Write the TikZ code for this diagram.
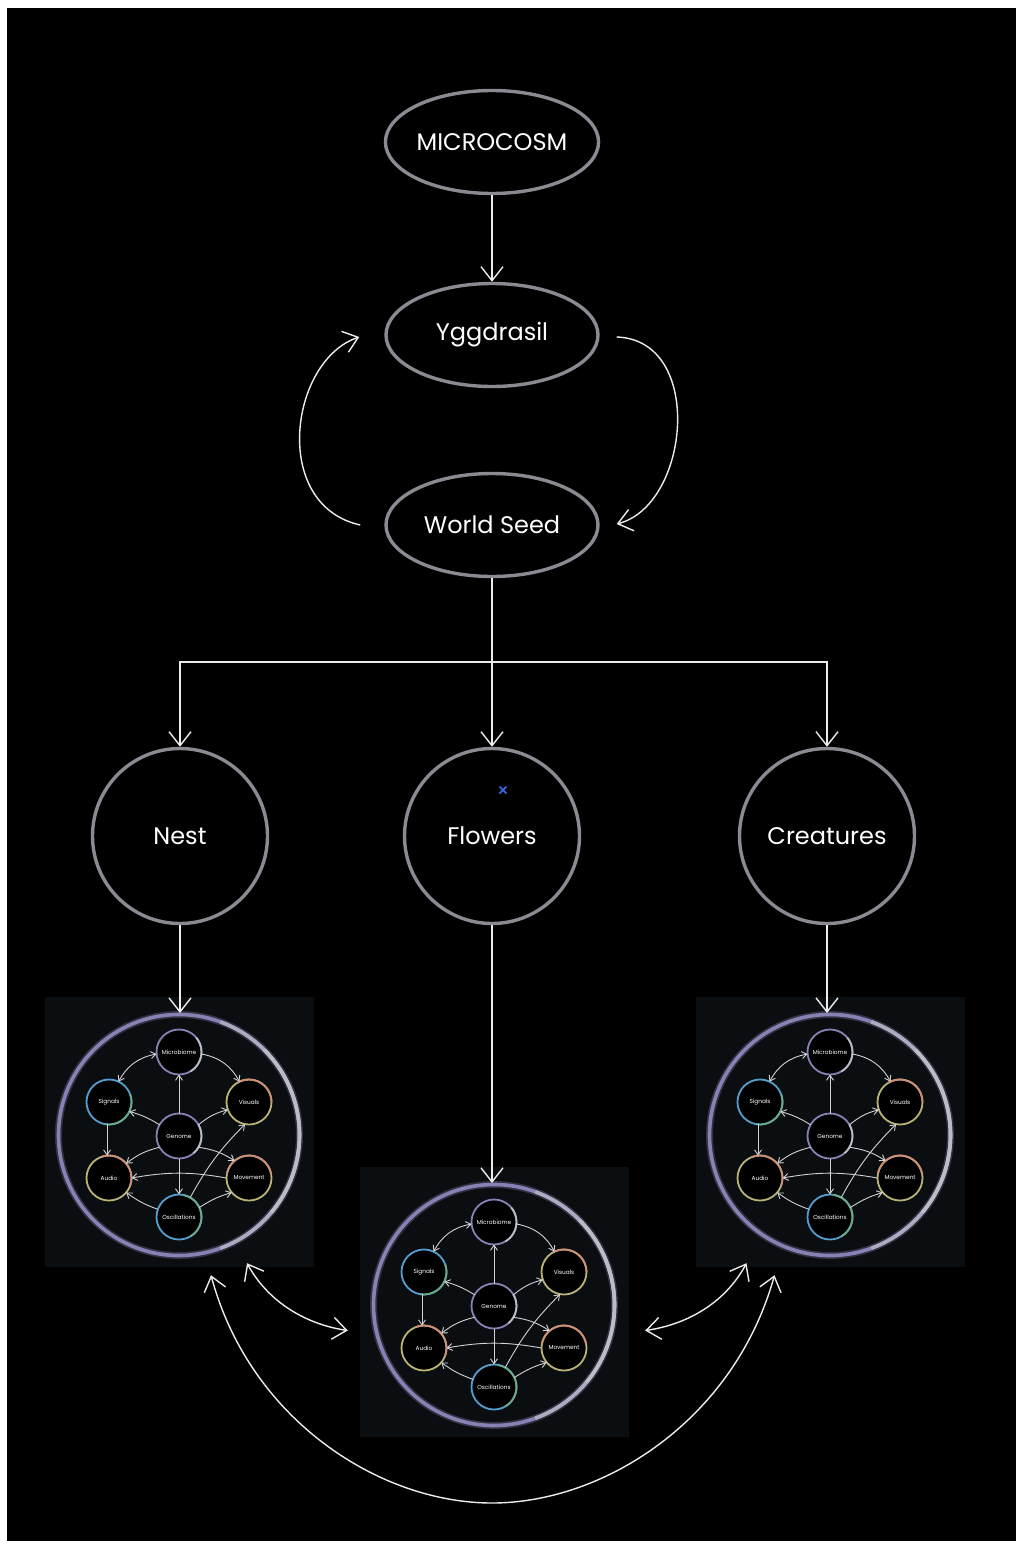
\documentclass[tikz,border=0pt]{standalone}
\usepackage{fontspec}
\setmainfont{Poppins}
\usetikzlibrary{shapes.geometric,arrows.meta,calc}
\definecolor{ringgray}{RGB}{140,137,146}
\definecolor{linew}{RGB}{236,236,236}
\definecolor{panelbg}{RGB}{10,14,16}
\definecolor{lav}{RGB}{136,130,180}
\definecolor{lgray}{RGB}{188,188,196}
\definecolor{sblue}{RGB}{86,158,206}
\definecolor{sgreen}{RGB}{108,172,136}
\definecolor{opink}{RGB}{206,142,120}
\definecolor{oyel}{RGB}{186,180,118}
\definecolor{miniarrow}{RGB}{210,210,214}
\definecolor{xblue}{RGB}{60,110,240}
\definecolor{logoorange}{RGB}{244,160,120}
\definecolor{logogray}{RGB}{140,140,140}
\tikzset{
  bigoval/.style={ellipse, draw=ringgray, line width=3.4pt, fill=black, minimum width=212pt, minimum height=103pt, text=white, font=\fontsize{24}{27}\selectfont, inner sep=0pt},
  bigcirc/.style={circle, draw=ringgray, line width=3.4pt, fill=black, minimum size=175pt, text=white, font=\fontsize{24}{27}\selectfont, inner sep=0pt},
  conn/.style={draw=linew, line width=1.4pt},
  bigarrow/.style={-{Straight Barb[length=14pt,width=22pt]}},
  bothbig/.style={{Straight Barb[length=14pt,width=22pt]}-{Straight Barb[length=14pt,width=22pt]}},
  panel/.style={rectangle, fill=panelbg, draw=none, minimum width=269pt, minimum height=270pt, inner sep=0pt},
  ringhit/.style={circle, draw=none, minimum size=244pt, inner sep=0pt, outer sep=0pt},
  mini/.style={circle, fill=black, line width=1.8pt, minimum size=45pt, inner sep=0pt, outer sep=0pt, text=white, font=\fontsize{5.8}{7}\selectfont},
  minarr/.style={draw=miniarrow, line width=0.9pt, -{Straight Barb[length=5pt,width=7pt]}},
  minboth/.style={draw=miniarrow, line width=0.9pt, {Straight Barb[length=5pt,width=7pt]}-{Straight Barb[length=5pt,width=7pt]}},
}
\newcommand{\tone}[4]{\draw[#2, line width=1.8pt] (#1.#3) arc[start angle=#3, end angle=#4, radius=22.5pt];}
\newcommand{\minidiag}[3]{%
  \begin{scope}[shift={(#2,-#3)}]
    \node[panel] (#1panel) at (0.5,3) {};
    \draw[lav, line width=7pt, opacity=0.3] (0,0) circle[radius=120.5];
    \draw[lav, line width=3.6pt] (0,0) circle[radius=120.5];
    \draw[lgray!70!lav, line width=3.6pt] (-70:120.5) arc[start angle=-70, end angle=70, radius=120.5];
    \draw[lgray, line width=3.6pt] (-40:120.5) arc[start angle=-40, end angle=45, radius=120.5];
    \node[ringhit] (#1ring) at (0,0) {};
    \node[mini, draw=lav] (#1M) at (0,83) {Microbiome};
    \tone{#1M}{lgray}{-60}{40}
    \node[mini, draw=sblue] (#1S) at (-70,33) {Signals};
    \tone{#1S}{sgreen}{-100}{20}
    \node[mini, draw=oyel] (#1V) at (70,33) {Visuals};
    \tone{#1V}{opink}{0}{120}
    \node[mini, draw=lav] (#1G) at (0,-1) {Genome};
    \tone{#1G}{lgray}{-50}{30}
    \node[mini, draw=oyel] (#1A) at (-70,-43) {Audio};
    \tone{#1A}{opink}{-20}{110}
    \node[mini, draw=oyel] (#1Mv) at (70,-43) {Movement};
    \tone{#1Mv}{opink}{10}{170}
    \node[mini, draw=sblue] (#1O) at (0,-82) {Oscillations};
    \tone{#1O}{sgreen}{-60}{80}
    \draw[minboth] (#1S.65) to[bend left=25] (#1M.185);
    \draw[minarr] (#1M.-5) to[bend left=25] (#1V.115);
    \draw[minarr] (#1G.90) -- (#1M.-90);
    \draw[minarr] (#1G.150) to[bend right=8] (#1S.-25);
    \draw[minarr] (#1G.30) to[bend left=12] (#1V.200);
    \draw[minarr] (#1S.-95) -- (#1A.95);
    \draw[minarr] (#1G.210) to[bend right=12] (#1A.40);
    \draw[minarr] (#1G.-30) to[bend left=12] (#1Mv.130);
    \draw[minarr] (#1G.-90) -- (#1O.90);
    \draw[minarr] (#1Mv.180) to[bend right=10] (#1A.0);
    \draw[minarr] (#1O.160) to[bend left=8] (#1A.-40);
    \draw[minarr] (#1O.25) to[bend left=8] (#1Mv.-140);
    \draw[minarr] (#1O.60) to[bend left=8] (#1V.-100);
  \end{scope}}
\begin{document}
\begin{tikzpicture}[x=1pt,y=1pt]
\useasboundingbox (0,0) rectangle (1016,-1541);
\fill[white] (0,0) rectangle (1016,-1541);
\begin{scope}
  \clip (0,0) rectangle (1016,-8);
  \draw[logoorange, line width=6pt] (207,-80) ++(228:84) arc[start angle=228, end angle=262, radius=84];
  \draw[logogray, line width=6pt] (207,-80) ++(268:84) arc[start angle=268, end angle=300, radius=84];
\end{scope}
\fill[black] (7,-8) rectangle (1016,-1541);

% top ovals
\node[bigoval] (mc) at (492,-142) {MICROCOSM};
\node[bigoval] (yg) at (492,-335) {Yggdrasil};
\node[bigoval] (ws) at (492,-525) {World Seed};

\draw[conn, bigarrow] (mc.south) -- (yg.north);

\coordinate (wsL) at ($(ws.west)+(-24,0)$);
\coordinate (ygL) at ($(yg.west)+(-25,-2)$);
\coordinate (ygR) at ($(yg.east)+(17,-2)$);
\coordinate (wsR) at ($(ws.east)+(17,1)$);
\draw[conn, bigarrow] (wsL) .. controls (270,-505) and (290,-360) .. (ygL);
\draw[conn, bigarrow] (ygR) .. controls (705,-340) and (690,-505) .. (wsR);

% three circles
\node[bigcirc] (nest) at (180,-836) {Nest};
\node[bigcirc] (fl) at (492,-836) {Flowers};
\node[bigcirc] (cr) at (827,-836) {Creatures};

\coordinate (split) at (492,-662);
\draw[conn, bigarrow] (ws.south) -- (fl.north);
\draw[conn, bigarrow] (split) -| (nest.north);
\draw[conn, bigarrow] (split) -| (cr.north);

\draw[xblue, line width=1.6pt] (499.5,-786.5) -- (506.5,-793.5) (499.5,-793.5) -- (506.5,-786.5);

% mini diagrams
\minidiag{L}{179}{1135}
\minidiag{C}{494}{1305}
\minidiag{R}{830}{1135}

\draw[conn, bigarrow] (nest.south) -- (nest.south |- Lring.north);
\draw[conn, bigarrow] (fl.south) -- (fl.south |- Cring.north);
\draw[conn, bigarrow] (cr.south) -- (cr.south |- Rring.north);

% bottom connectors
\coordinate (a1) at ($(Lpanel.south)+(67.5,4)$);
\coordinate (a2) at ($(Cpanel.west)+(-12,-28.5)$);
\coordinate (b1) at ($(Rpanel.south)+(-84,4)$);
\coordinate (b2) at ($(Cpanel.east)+(16,-28.5)$);
\coordinate (c1) at ($(Lpanel.south)+(31.5,-8)$);
\coordinate (c2) at ($(Rpanel.south)+(-56,-8)$);
\draw[conn, bothbig] (a1) .. controls (270,-1305) and (310,-1325) .. (a2);
\draw[conn, bothbig] (b1) .. controls (724,-1305) and (684,-1325) .. (b2);
\draw[conn, bothbig] (c1) .. controls (250,-1420) and (380,-1503) .. (492,-1503) .. controls (604,-1503) and (734,-1420) .. (c2);
\end{tikzpicture}
\end{document}
